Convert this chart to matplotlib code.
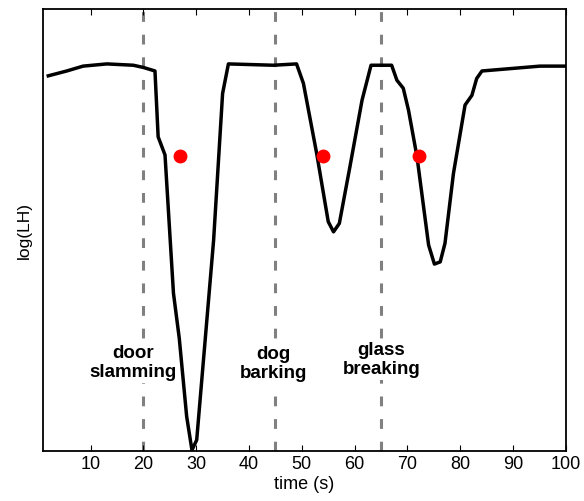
import numpy as np
import matplotlib
matplotlib.use("Agg")
import matplotlib.pyplot as plt

plt.rcParams['font.family'] = ['Liberation Sans', 'DejaVu Sans']

# curve of log(LH) over time (arbitrary y units)
time_s = [2.0, 5.5, 8.6, 13.1, 18.1, 20.0, 22.2, 22.8, 24.1, 25.7, 26.8, 28.2,
          29.2, 30.1, 33.3, 35.0, 36.1, 44.6, 49.0, 50.3, 52.8, 55.0, 56.0, 57.1,
          59.1, 61.4, 63.1, 67.0, 68.0, 69.2, 70.2, 71.8, 74.0, 75.1, 76.2, 77.1,
          78.7, 80.9, 82.2, 83.1, 84.1, 90.1, 95.1, 100.0]
log_lh = [8.49, 8.60, 8.71, 8.76, 8.73, 8.68, 8.60, 7.11, 6.70, 3.57, 2.55, 0.78,
          0.02, 0.25, 4.77, 8.09, 8.76, 8.73, 8.76, 8.32, 6.74, 5.19, 4.96, 5.15,
          6.43, 7.94, 8.73, 8.73, 8.39, 8.21, 7.71, 6.66, 4.66, 4.23, 4.28, 4.70,
          6.28, 7.83, 8.05, 8.43, 8.60, 8.66, 8.71, 8.71]

# detections (red dots)
det_t = [26.9, 54.1, 72.1]
det_y = [6.67, 6.67, 6.67]

# events
event_t = [20, 45, 65]
event_labels = ["door\nslamming", "dog\nbarking", "glass\nbreaking"]
label_pos = [(18.0, 1.99), (44.6, 1.97), (65.1, 2.06)]

fig = plt.figure(figsize=(5.84, 5.01), dpi=100)
ax = fig.add_axes([0.0736, 0.0998, 0.8955, 0.882])

for t in event_t:
    ax.axvline(t, color='#808080', lw=2.2, dashes=(3.2, 4.2), zorder=1)

ax.plot(time_s, log_lh, color='black', lw=2.5, zorder=2)
ax.plot(det_t, det_y, 'o', color='#ff0000', markersize=9, zorder=3)

for (x, y), lab in zip(label_pos, event_labels):
    ax.text(x, y, lab, ha='center', va='center', fontsize=13.5, fontweight='bold',
            linespacing=1.15, zorder=4,
            bbox=dict(facecolor='white', edgecolor='none', pad=1.5))

ax.set_xlim(1, 100)
ax.set_ylim(0, 10)
ax.set_xticks(np.arange(10, 101, 10))
ax.set_yticks([])
ax.tick_params(axis='x', direction='in', top=True, length=4, width=0.8, labelsize=13)
for s in ax.spines.values():
    s.set_linewidth(1.3)

ax.set_xlabel('time (s)', fontsize=13, labelpad=2)
ax.set_ylabel('log(LH)', fontsize=12.5, labelpad=8)

fig.savefig('out.png', dpi=100)
